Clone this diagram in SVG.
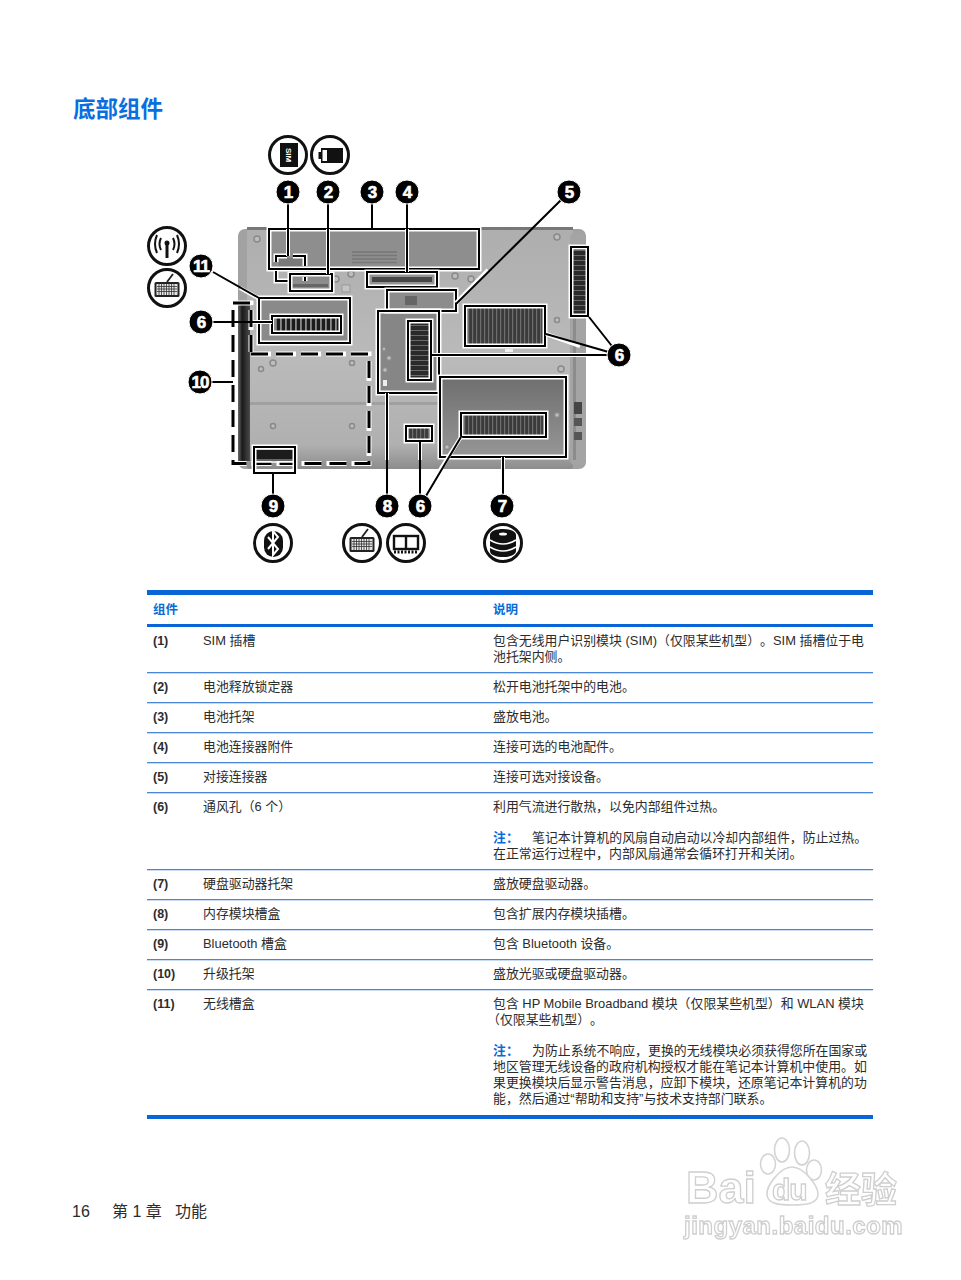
<svg xmlns="http://www.w3.org/2000/svg" width="961" height="1280" viewBox="0 0 961 1280">
<style>
text{font-family:"Liberation Sans","Noto Sans CJK SC",sans-serif;font-size:12.9px;fill:#2c2c2c;text-spacing-trim:space-all}
.b{font-weight:bold;font-size:12.5px}
.h{fill:#0a6ad6;font-weight:bold;font-size:12.5px}
.n{fill:#0a6ad6;font-weight:bold}
.rule{fill:#4a86d8}
.thick{fill:#0a66d8}
.num{fill:#fff;stroke:#fff;stroke-width:.6;font-size:17px;font-weight:bold;text-anchor:middle;font-family:"Liberation Sans",sans-serif;letter-spacing:-1px}
.mk{fill:#000;stroke:#fff;stroke-width:1}
.ic{fill:#fff;stroke:#111;stroke-width:3}
.w{fill:none;stroke:#fff;stroke-width:5}
.k{fill:none;stroke:#000;stroke-width:2}
.vw{fill:none;stroke:#fff;stroke-width:5}
.dw{fill:none;stroke:#fff;stroke-width:5;stroke-dasharray:20 5}
.dk{fill:none;stroke:#000;stroke-width:3;stroke-dasharray:17 8}
.hl{stroke:#fff;stroke-width:4;fill:none}
.ln{stroke:#000;stroke-width:2;fill:none}
.wm{fill:#fff;stroke:#d4d4d4;stroke-width:1.600}
.wt{font-family:"Liberation Sans",sans-serif;font-weight:bold;fill:#fff;stroke:#cfcfcf;stroke-width:1.300}
.scr{fill:#bdbdbd;stroke:#8a8a8a;stroke-width:1.500}
</style>
<defs>
<filter id="soft" x="-5%" y="-5%" width="110%" height="110%"><feGaussianBlur stdDeviation=".55"/></filter>
<filter id="soft2" x="-5%" y="-5%" width="110%" height="110%"><feGaussianBlur stdDeviation=".7"/></filter>
<pattern id="vv" width="4" height="6" patternUnits="userSpaceOnUse"><rect width="4" height="6" fill="#3a3a3a"/><rect width="1.2" height="6" fill="#6e6e6e"/></pattern>
<pattern id="vvn" width="5" height="6" patternUnits="userSpaceOnUse"><rect width="5" height="6" fill="#1e1e1e"/><rect width="1.800" height="6" fill="#8a8a8a"/></pattern>
<pattern id="vh" width="6" height="5" patternUnits="userSpaceOnUse"><rect width="6" height="5" fill="#2a2a2a"/><rect width="6" height="1" fill="#6a6a6a"/></pattern>
<linearGradient id="body" x1="0" y1="0" x2="0" y2="1"><stop offset="0" stop-color="#aeaeae"/><stop offset="0.55" stop-color="#bababa"/><stop offset="0.9" stop-color="#b0b0b0"/><stop offset="1" stop-color="#8c8c8c"/></linearGradient>
<linearGradient id="bay" x1="0" y1="0" x2="0" y2="1"><stop offset="0" stop-color="#6f6f6f"/><stop offset="0.4" stop-color="#7e7e7e"/><stop offset="1" stop-color="#969696"/></linearGradient>
<linearGradient id="bar" x1="0" y1="0" x2="1" y2="0"><stop offset="0" stop-color="#6a6a6a"/><stop offset="0.35" stop-color="#1a1a1a"/><stop offset="1" stop-color="#4a4a4a"/></linearGradient>
<g id="kb"><rect x="-12.500" y="-6" width="25" height="15" rx="1.500" fill="#222"/><rect x="-10.500" y="-4" width="21" height="11" fill="#e4e4e4"/><path d="M-10-1.500H10M-10 1H10M-10 3.500H10M-8-4V7M-5.500-4V7M-3-4V7M-.5-4V7M2-4V7M4.500-4V7M7-4V7" stroke="#333" stroke-width=".8" fill="none"/><path d="M0-6 6-14" stroke="#222" stroke-width="1.800" fill="none"/></g>
</defs>

<text x="73" y="117" style="font-size:22.5px;font-weight:bold;fill:#0a6ee0">底部组件</text>

<g id="laptop" filter="url(#soft)">
<rect x="238" y="229" width="348" height="240" rx="7" fill="#a2a2a2"/>
<rect x="247" y="227" width="326" height="242" rx="3" fill="url(#body)"/>
<rect x="570" y="233" width="16" height="232" rx="5" fill="#a4a4a4"/>
<rect x="573" y="245" width="3" height="215" fill="#8c8c8c"/>
<rect x="247" y="227" width="326" height="3" fill="#777"/>
<rect x="238" y="305" width="12" height="156" fill="url(#bar)"/>
<rect x="250" y="402" width="190" height="3" fill="#a0a0a0"/>
<rect x="269" y="230" width="210" height="38" fill="#8e8e8e"/>
<path d="M352 252H397M352 255.500H397M352 259H397M352 262.500H397" stroke="#777" stroke-width="1.500"/>
<rect x="258" y="298" width="92" height="45" fill="#8a8a8a"/>
<rect x="378" y="312" width="61" height="80" fill="#868686"/>
<rect x="440" y="378" width="126" height="78" fill="url(#bay)"/>
<rect x="388" y="291" width="68" height="19" fill="#8c8c8c"/>
<rect x="405" y="296" width="12" height="9" fill="#666"/>
<rect x="368" y="273" width="68" height="13" fill="#939393"/>
<rect x="372" y="277" width="60" height="5" fill="#444"/>
<rect x="290" y="275" width="41" height="15" fill="#8c8c8c"/>
<rect x="293" y="284" width="35" height="3" fill="#666"/>
<rect x="279" y="258" width="24" height="9" fill="#7a7a7a"/>
<rect x="342" y="285" width="8" height="7" fill="#c4c4c4" stroke="#999"/>
<rect x="574" y="402" width="8" height="12" fill="#444"/><rect x="574" y="418" width="8" height="8" fill="#555"/><rect x="574" y="432" width="8" height="8" fill="#555"/>
<rect x="255" y="450" width="39" height="9" fill="#1c1c1c"/><rect x="255" y="459" width="39" height="3" fill="#666"/>
<rect x="505" y="349" width="8" height="3" fill="#eee"/>
<circle class="scr" cx="257" cy="239" r="3"/><circle class="scr" cx="336" cy="279" r="3"/><circle class="scr" cx="351" cy="274" r="3"/>
<circle class="scr" cx="455" cy="276" r="3"/><circle class="scr" cx="471" cy="279" r="3"/><circle class="scr" cx="557" cy="237" r="3"/>
<circle class="scr" cx="557" cy="320" r="2.500"/><circle class="scr" cx="561" cy="369" r="3"/><circle class="scr" cx="261" cy="369" r="2.500"/>
<circle class="scr" cx="273" cy="363" r="3"/><circle class="scr" cx="352" cy="363" r="2.500"/><circle class="scr" cx="273" cy="426" r="2.500"/><circle class="scr" cx="352" cy="426" r="2.500"/>
<circle class="scr" cx="384" cy="349" r="2"/><circle class="scr" cx="389" cy="358" r="2.500"/><circle class="scr" cx="385" cy="370" r="2.500"/><rect x="383" y="380" width="4" height="6" fill="#eee"/>
<circle class="scr" cx="557" cy="415" r="2.500"/><circle class="scr" cx="447" cy="447" r="2.500"/>
</g>

<g id="highlights" filter="url(#soft)">
<rect x="269" y="229" width="210" height="40" class="w"/><rect x="269" y="229" width="210" height="40" class="k"/>
<g id="sim-bracket"><path d="M276 262V256H287M293 256H305V266M276 271V281H290M305 277V281" class="w"/><path d="M276 262V256H287M293 256H305V266M276 271V281H290M305 277V281" class="k"/></g>
<rect x="290" y="274" width="42" height="17" class="w"/><rect x="290" y="274" width="42" height="17" class="k"/>
<rect x="367" y="272" width="70" height="15" class="w"/><rect x="367" y="272" width="70" height="15" class="k"/>
<rect x="387" y="290" width="69" height="21" class="w"/><rect x="387" y="290" width="69" height="21" class="k"/>
<rect x="378" y="311" width="61" height="82" class="w"/><rect x="378" y="311" width="61" height="82" class="k"/>
<rect x="440" y="377" width="126" height="80" class="w"/><rect x="440" y="377" width="126" height="80" class="k"/>
<rect x="259" y="298" width="91" height="45" class="w"/><rect x="259" y="298" width="91" height="45" class="k"/>
<path d="M233 303H251V352M251 354H369V463.500H233V303" class="dw"/><path d="M233 303H251V352M251 354H369V463.500H233V303" class="dk"/>
<rect x="254" y="447" width="41" height="26" class="w"/><rect x="254" y="447" width="41" height="26" class="k"/>
<path d="M255 462H294" stroke="#fff" stroke-width="1.500"/>
</g>

<g id="vents" filter="url(#soft)">
<rect x="408" y="321" width="23" height="59" fill="url(#vh)"/><rect x="408" y="321" width="23" height="59" class="vw"/><rect x="408" y="321" width="23" height="59" class="k"/>
<rect x="465" y="306" width="80" height="40" fill="url(#vv)"/><rect x="465" y="306" width="80" height="40" class="vw"/><rect x="465" y="306" width="80" height="40" class="k"/>
<rect x="571" y="247" width="17" height="69" fill="url(#vh)"/><rect x="571" y="247" width="17" height="69" class="vw"/><rect x="571" y="247" width="17" height="69" class="k"/>
<rect x="461" y="413" width="85" height="24" fill="url(#vv)"/><rect x="461" y="413" width="85" height="24" class="vw"/><rect x="461" y="413" width="85" height="24" class="k"/>
<rect x="406" y="426" width="26" height="15" fill="url(#vv)"/><rect x="406" y="426" width="26" height="15" class="vw"/><rect x="406" y="426" width="26" height="15" class="k"/>
<rect x="272" y="316" width="69" height="17" fill="url(#vvn)"/><rect x="272" y="316" width="69" height="17" class="vw"/><rect x="272" y="316" width="69" height="17" class="k"/>
</g>

<g id="connectors">
<path class="hl" d="M288 229V256M328 229V274M407 229V272M488 270 456 303M258 298 240 288M253 322H272M546 334 580 346M432 355H600M589 317 600 335M387 393V460M420 442V460M461 437 440 470M503 457V470"/>
<path class="ln" d="M288 200V256M328 200V274M372 200V229M407 200V272M561 200 456 304M213 272 259 298M201 322H272M200 382H233M619 355 546 334M619 355 589 317M619 355H432M273 506V473M387 506V393M420 506V442M420 506 461 437M503 506V457"/>
</g>

<g id="markers">
<g id="m1"><circle class="mk" cx="288" cy="192" r="12"/><text class="num" x="288" y="198">1</text></g>
<g id="m2"><circle class="mk" cx="328" cy="192" r="12"/><text class="num" x="328" y="198">2</text></g>
<g id="m3"><circle class="mk" cx="372" cy="192" r="12"/><text class="num" x="372" y="198">3</text></g>
<g id="m4"><circle class="mk" cx="407" cy="192" r="12"/><text class="num" x="407" y="198">4</text></g>
<g id="m5"><circle class="mk" cx="569" cy="192" r="12"/><text class="num" x="569" y="198">5</text></g>
<g id="m11"><circle class="mk" cx="201" cy="266" r="12"/><text class="num" x="201" y="272">11</text></g>
<g id="m6a"><circle class="mk" cx="201" cy="322" r="12"/><text class="num" x="201" y="328">6</text></g>
<g id="m10"><circle class="mk" cx="200" cy="382" r="12"/><text class="num" x="200" y="388">10</text></g>
<g id="m6b"><circle class="mk" cx="619" cy="355" r="12"/><text class="num" x="619" y="361">6</text></g>
<g id="m9"><circle class="mk" cx="273" cy="506" r="12"/><text class="num" x="273" y="512">9</text></g>
<g id="m8"><circle class="mk" cx="387" cy="506" r="12"/><text class="num" x="387" y="512">8</text></g>
<g id="m6c"><circle class="mk" cx="420" cy="506" r="12"/><text class="num" x="420" y="512">6</text></g>
<g id="m7"><circle class="mk" cx="502" cy="506" r="12"/><text class="num" x="502" y="512">7</text></g>
</g>

<g id="icons">
<g id="i-sim"><circle class="ic" cx="288" cy="155" r="18.500"/><path d="M280 143H298V167H280Z" fill="#111"/><text transform="translate(286 148) rotate(90)" style="font-size:8px;font-weight:bold;fill:#fff">SIM</text></g>
<g id="i-bat"><circle class="ic" cx="330" cy="155" r="18.500"/><rect x="321" y="148" width="22" height="15" fill="#111"/><rect x="318.500" y="152" width="3" height="7" fill="#111"/><rect x="322.500" y="150" width="4.500" height="11" fill="#fff"/></g>
<g id="i-wifi"><circle class="ic" cx="167" cy="246" r="18.500"/><path d="M167 244V258" stroke="#111" stroke-width="3"/><circle cx="167" cy="243" r="2.500" fill="#111"/><path d="M161 238Q158 244 161 250M173 238Q176 244 173 250M157 235Q153 244 157 253M177 235Q181 244 177 253" fill="none" stroke="#111" stroke-width="2"/></g>
<g id="i-kb1"><circle class="ic" cx="167" cy="288" r="18.500"/><use href="#kb" x="167" y="288"/></g>
<g id="i-bt"><circle class="ic" cx="273" cy="543" r="18.500"/><rect x="264" y="531" width="19" height="26" rx="9.500" fill="#111"/><path d="M268 537 278 549 273 555V531L278 537 268 549" fill="none" stroke="#fff" stroke-width="2"/></g>
<g id="i-kb2"><circle class="ic" cx="362" cy="543" r="18.500"/><use href="#kb" x="362" y="543"/></g>
<g id="i-mem"><circle class="ic" cx="406" cy="543" r="18.500"/><rect x="394" y="536" width="24" height="13" fill="#fff" stroke="#111" stroke-width="2.400"/><path d="M406 536V549" stroke="#111" stroke-width="2.400"/><path d="M394 552H418" stroke="#111" stroke-width="3" stroke-dasharray="2 1.500"/></g>
<g id="i-disk"><circle class="ic" cx="503" cy="543" r="18.500"/><path d="M490 535C490 527 516 527 516 535V551C516 559 490 559 490 551Z" fill="#111"/><path d="M490 540Q503 548 516 540M490 547Q503 555 516 547" fill="none" stroke="#fff" stroke-width="1.600"/><ellipse cx="503" cy="534" rx="4" ry="1.500" fill="#fff"/></g>
</g>

<g id="table">
<rect class="thick" x="147" y="590" width="726" height="5"/>
<rect class="thick" x="147" y="624" width="726" height="3"/>
<rect class="thick" x="147" y="1115" width="726" height="4"/>
<rect class="rule" x="147" y="672" width="726" height="1.300"/>
<rect class="rule" x="147" y="702" width="726" height="1.300"/>
<rect class="rule" x="147" y="732" width="726" height="1.300"/>
<rect class="rule" x="147" y="762" width="726" height="1.300"/>
<rect class="rule" x="147" y="792" width="726" height="1.300"/>
<rect class="rule" x="147" y="869" width="726" height="1.300"/>
<rect class="rule" x="147" y="899" width="726" height="1.300"/>
<rect class="rule" x="147" y="929" width="726" height="1.300"/>
<rect class="rule" x="147" y="959" width="726" height="1.300"/>
<rect class="rule" x="147" y="989" width="726" height="1.300"/>
<text class="h" x="153" y="614">组件</text><text class="h" x="493" y="614">说明</text>

<text class="b" x="153" y="645">(1)</text><text x="203" y="645">SIM 插槽</text>
<text x="493" y="645">包含无线用户识别模块 (SIM)（仅限某些机型）。SIM 插槽位于电</text><text x="493" y="661">池托架内侧。</text>
<text class="b" x="153" y="691">(2)</text><text x="203" y="691">电池释放锁定器</text><text x="493" y="691">松开电池托架中的电池。</text>
<text class="b" x="153" y="721">(3)</text><text x="203" y="721">电池托架</text><text x="493" y="721">盛放电池。</text>
<text class="b" x="153" y="751">(4)</text><text x="203" y="751">电池连接器附件</text><text x="493" y="751">连接可选的电池配件。</text>
<text class="b" x="153" y="781">(5)</text><text x="203" y="781">对接连接器</text><text x="493" y="781">连接可选对接设备。</text>
<text class="b" x="153" y="811">(6)</text><text x="203" y="811">通风孔（6 个）</text><text x="493" y="811">利用气流进行散热，以免内部组件过热。</text>
<text class="n" x="493" y="842">注：</text><text x="532" y="842">笔记本计算机的风扇自动启动以冷却内部组件，防止过热。</text>
<text x="493" y="858">在正常运行过程中，内部风扇通常会循环打开和关闭。</text>
<text class="b" x="153" y="888">(7)</text><text x="203" y="888">硬盘驱动器托架</text><text x="493" y="888">盛放硬盘驱动器。</text>
<text class="b" x="153" y="918">(8)</text><text x="203" y="918">内存模块槽盒</text><text x="493" y="918">包含扩展内存模块插槽。</text>
<text class="b" x="153" y="948">(9)</text><text x="203" y="948">Bluetooth 槽盒</text><text x="493" y="948">包含 Bluetooth 设备。</text>
<text class="b" x="153" y="978">(10)</text><text x="203" y="978">升级托架</text><text x="493" y="978">盛放光驱或硬盘驱动器。</text>
<text class="b" x="153" y="1008">(11)</text><text x="203" y="1008">无线槽盒</text>
<text x="493" y="1008">包含 HP Mobile Broadband 模块（仅限某些机型）和 WLAN 模块</text>
<text x="487" y="1024">（仅限某些机型）。</text>
<text class="n" x="493" y="1055">注：</text><text x="532" y="1055">为防止系统不响应，更换的无线模块必须获得您所在国家或</text>
<text x="493" y="1071">地区管理无线设备的政府机构授权才能在笔记本计算机中使用。如</text>
<text x="493" y="1087">果更换模块后显示警告消息，应卸下模块，还原笔记本计算机的功</text>
<text x="493" y="1103">能，然后通过“帮助和支持”与技术支持部门联系。</text>
</g>

<g id="footer">
<text x="72" y="1217" style="font-size:16px">16</text><text x="112" y="1217" style="font-size:16px">第 1 章</text><text x="175" y="1217" style="font-size:16px">功能</text>
</g>

<g id="watermark" filter="url(#soft2)">
<ellipse class="wm" cx="782" cy="1150" rx="7.500" ry="12"/><ellipse class="wm" cx="802" cy="1153" rx="7.500" ry="12"/><ellipse class="wm" cx="768" cy="1164" rx="7.500" ry="10"/><ellipse class="wm" cx="814" cy="1170" rx="7.500" ry="10"/>
<path class="wm" d="M792 1167C780 1167 766 1186 767 1195 768 1204 780 1205 792 1205 806 1205 818 1204 818 1194 818 1186 804 1167 792 1167Z"/>
<text class="wt" x="686" y="1203" style="font-size:45px">Bai</text>
<text class="wt" x="772" y="1200" style="font-size:30px;letter-spacing:-1px">du</text>
<text class="wt" x="825" y="1203" style="font-size:36px;font-family:'Noto Sans CJK SC',sans-serif">经验</text>
<text class="wt" x="684" y="1234" style="font-size:24px;letter-spacing:.5px">jingyan.baidu.com</text>
</g>
</svg>
